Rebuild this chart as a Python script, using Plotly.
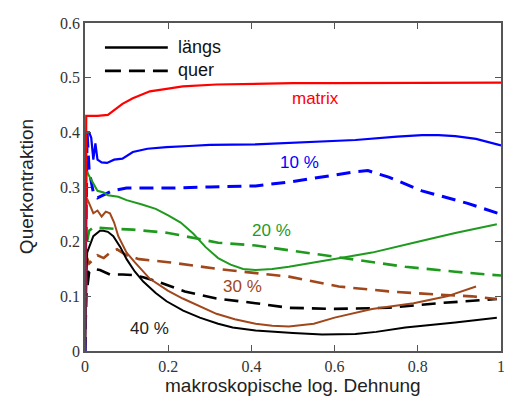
import plotly.graph_objects as go

# ---- data ----
matrix_x = [0, 0.003, 0.01, 0.03, 0.055, 0.07, 0.09, 0.115, 0.156, 0.2, 0.235, 0.316, 0.41, 0.5, 0.6, 0.7, 0.8, 0.9, 1.0]
matrix_y = [0, 0.43, 0.43, 0.43, 0.432, 0.44, 0.452, 0.4625, 0.475, 0.48, 0.484, 0.4875, 0.489, 0.49, 0.49, 0.49, 0.491, 0.491, 0.491]

b10_l_x = [0, 0.003, 0.01, 0.015, 0.02, 0.025, 0.03, 0.04, 0.053, 0.07, 0.09, 0.115, 0.15, 0.196, 0.25, 0.3, 0.41, 0.5, 0.65, 0.75, 0.81, 0.85, 0.89, 0.94, 0.99, 1.0]
b10_l_y = [0, 0.40, 0.40, 0.39, 0.35, 0.38, 0.35, 0.345, 0.344, 0.35, 0.352, 0.364, 0.37, 0.373, 0.375, 0.377, 0.378, 0.381, 0.386, 0.392, 0.395, 0.395, 0.393, 0.388, 0.378, 0.376]
b10_q_x = [0, 0.005, 0.01, 0.02, 0.03, 0.045, 0.065, 0.1, 0.2, 0.3, 0.41, 0.5, 0.57, 0.65, 0.68, 0.73, 0.81, 0.92, 1.0]
b10_q_y = [0, 0.40, 0.33, 0.29, 0.28, 0.285, 0.293, 0.298, 0.298, 0.3, 0.302, 0.31, 0.318, 0.328, 0.33, 0.318, 0.293, 0.27, 0.25]

g20_l_x = [0, 0.004, 0.01, 0.02, 0.03, 0.045, 0.055, 0.08, 0.1, 0.137, 0.17, 0.2, 0.23, 0.26, 0.29, 0.32, 0.35, 0.38, 0.41, 0.45, 0.49, 0.55, 0.6, 0.69, 0.79, 0.89, 0.99]
g20_l_y = [0, 0.33, 0.32, 0.305, 0.293, 0.29, 0.285, 0.282, 0.276, 0.268, 0.26, 0.248, 0.235, 0.215, 0.19, 0.17, 0.158, 0.15, 0.148, 0.15, 0.154, 0.162, 0.168, 0.18, 0.198, 0.216, 0.232]
g20_q_x = [0, 0.005, 0.01, 0.02, 0.06, 0.115, 0.2, 0.32, 0.41, 0.53, 0.65, 0.77, 0.89, 1.0]
g20_q_y = [0, 0.2, 0.22, 0.226, 0.224, 0.222, 0.216, 0.198, 0.193, 0.18, 0.166, 0.154, 0.145, 0.138]

r30_l_x = [0, 0.004, 0.01, 0.02, 0.03, 0.04, 0.05, 0.06, 0.07, 0.08, 0.1, 0.12, 0.156, 0.2, 0.235, 0.28, 0.316, 0.36, 0.41, 0.45, 0.49, 0.55, 0.6, 0.69, 0.79, 0.87, 0.94]
r30_l_y = [0, 0.28, 0.27, 0.252, 0.257, 0.246, 0.255, 0.252, 0.235, 0.21, 0.18, 0.162, 0.132, 0.11, 0.096, 0.08, 0.068, 0.058, 0.05, 0.046, 0.045, 0.05, 0.061, 0.077, 0.0875, 0.1, 0.118]
r30_q_x = [0, 0.005, 0.01, 0.02, 0.03, 0.045, 0.06, 0.077, 0.1, 0.13, 0.2, 0.32, 0.41, 0.49, 0.61, 0.73, 0.85, 0.93, 0.99]
r30_q_y = [0, 0.17, 0.16, 0.168, 0.175, 0.17, 0.18, 0.186, 0.175, 0.168, 0.1625, 0.15, 0.143, 0.136, 0.118, 0.109, 0.103, 0.1, 0.095]

k40_l_x = [0, 0.005, 0.02, 0.036, 0.044, 0.055, 0.068, 0.085, 0.1, 0.12, 0.14, 0.17, 0.196, 0.236, 0.276, 0.32, 0.355, 0.41, 0.5, 0.57, 0.65, 0.7, 0.77, 0.89, 0.99]
k40_l_y = [0, 0.18, 0.21, 0.22, 0.22, 0.218, 0.21, 0.19, 0.168, 0.145, 0.127, 0.106, 0.091, 0.074, 0.061, 0.05, 0.043, 0.0375, 0.033, 0.03, 0.031, 0.035, 0.043, 0.052, 0.061]
k40_q_x = [0, 0.003, 0.01, 0.02, 0.036, 0.06, 0.09, 0.113, 0.14, 0.175, 0.24, 0.316, 0.41, 0.49, 0.6, 0.73, 0.85, 0.99]
k40_q_y = [0, 0.1, 0.145, 0.15, 0.148, 0.14, 0.14, 0.139, 0.135, 0.127, 0.109, 0.096, 0.0875, 0.079, 0.077, 0.079, 0.0875, 0.095]

x_ticks = [0, 0.2, 0.4, 0.6, 0.8, 1]
x_ticklabels = ["0", "0.2", "0.4", "0.6", "0.8", "1"]
y_ticks = [0, 0.1, 0.2, 0.3, 0.4, 0.5, 0.6]
y_ticklabels = ["0", "0.1", "0.2", "0.3", "0.4", "0.5", "0.6"]

labels = ["matrix", "10 %", "20 %", "30 %", "40 %"]
label_x = [0.554, 0.515, 0.449, 0.379, 0.156]
label_y = [0.4625, 0.345, 0.22, 0.118, 0.041]

RED = "#ff0000"
BLUE = "#0000ff"
GREEN = "#1f9a1f"
BROWN = "#a0471c"
BLACK = "#000000"
DASH = "14px,8px"

fig = go.Figure()

def add(x, y, color, dashed, width):
    fig.add_trace(go.Scatter(x=x, y=y, mode="lines",
                             line=dict(color=color, width=width, dash=DASH if dashed else "solid"),
                             showlegend=False, hoverinfo="skip"))

add(k40_q_x, k40_q_y, BLACK, True, 2.6)
add(r30_q_x, r30_q_y, BROWN, True, 2.6)
add(g20_q_x, g20_q_y, GREEN, True, 2.6)
add(b10_q_x, b10_q_y, BLUE, True, 3)
add(k40_l_x, k40_l_y, BLACK, False, 2)
add(r30_l_x, r30_l_y, BROWN, False, 2)
add(g20_l_x, g20_l_y, GREEN, False, 2)
add(b10_l_x, b10_l_y, BLUE, False, 2.2)
add(matrix_x, matrix_y, RED, False, 2.2)

label_colors = [RED, BLUE, GREEN, BROWN, "#222222"]
for t, lx, ly, c in zip(labels, label_x, label_y, label_colors):
    fig.add_annotation(x=lx, y=ly, text=t, showarrow=False,
                       font=dict(family="Liberation Sans, Arial", size=17, color=c),
                       xanchor="center", yanchor="middle")

# page offset of the plotly div (default body margin)
OFF = 8
# plot-area edges in page pixels (from the reference)
W0, W1 = 85, 502
T0, T1 = 15, 351
def px(xp):
    return (xp - W0) / (W1 - W0)
def py(yp):
    return (T1 - yp) / (T1 - T0)

fig.add_shape(type="line", xref="paper", yref="paper", x0=px(105), x1=px(168), y0=py(40), y1=py(40),
              line=dict(color="black", width=2.5))
fig.add_shape(type="line", xref="paper", yref="paper", x0=px(105), x1=px(168), y0=py(64), y1=py(64),
              line=dict(color="black", width=2.8, dash="16px,8px"))
fig.add_annotation(xref="paper", yref="paper", x=px(176), y=py(40), text="längs", showarrow=False,
                   xanchor="left", yanchor="middle", font=dict(family="Liberation Sans, Arial", size=18, color="#111"))
fig.add_annotation(xref="paper", yref="paper", x=px(176), y=py(63), text="quer", showarrow=False,
                   xanchor="left", yanchor="middle", font=dict(family="Liberation Sans, Arial", size=18, color="#111"))

# axis titles
fig.add_annotation(xref="paper", yref="paper", x=px(293), y=py(386), text="makroskopische log. Dehnung",
                   showarrow=False, xanchor="center", yanchor="middle",
                   font=dict(family="Liberation Sans, Arial", size=19, color="#222"))
fig.add_annotation(xref="paper", yref="paper", x=px(26), y=py(183), text="Querkontraktion",
                   showarrow=False, xanchor="center", yanchor="middle", textangle=-90,
                   font=dict(family="Liberation Sans, Arial", size=19, color="#222"))

axis_common = dict(showgrid=False, zeroline=False, showline=True, linecolor="#555555", linewidth=1.5,
                   mirror="ticks", ticks="inside", ticklen=6, tickwidth=1.2, tickcolor="#555555",
                   tickfont=dict(family="Liberation Serif, Times New Roman, serif", size=16, color="#333333"))

FW, FH = 512 - OFF, 405 - OFF
fig.update_layout(
    width=FW, height=FH,
    margin=dict(l=W0 - OFF, r=FW - (W1 - OFF), t=T0 - OFF, b=FH - (T1 - OFF), pad=0),
    plot_bgcolor="white", paper_bgcolor="white",
    xaxis=dict(range=[0, 1], tickvals=x_ticks, ticktext=x_ticklabels, **axis_common),
    yaxis=dict(range=[0, 0.6], tickvals=y_ticks, ticktext=y_ticklabels, **axis_common),
    showlegend=False,
)

fig.write_html("out.html")
